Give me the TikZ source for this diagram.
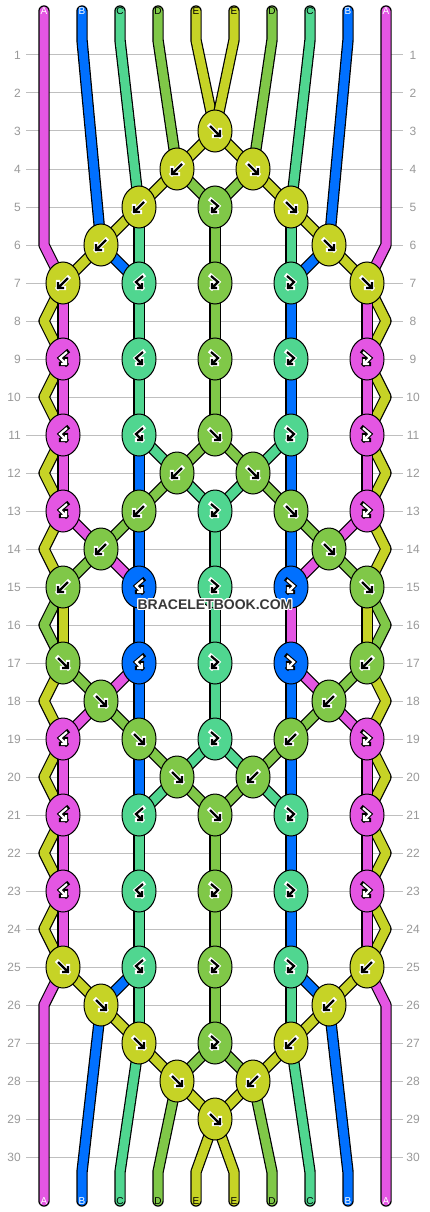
\documentclass[tikz,border=0pt]{standalone}
\usepackage{fontspec}
\setmainfont{Liberation Sans}
\usepackage{contour}
\contourlength{1pt}
\usetikzlibrary{shapes.geometric}
\pgfdeclarelayer{background}
\pgfsetlayers{background,main}

\definecolor{yarnA}{HTML}{E456E3}
\definecolor{yarnB}{HTML}{0070FF}
\definecolor{yarnC}{HTML}{50D690}
\definecolor{yarnD}{HTML}{80C848}
\definecolor{yarnE}{HTML}{C6D326}
% arrow ink and its outline on each yarn
\colorlet{inkyarnA}{white}\colorlet{haloyarnA}{black}
\colorlet{inkyarnB}{white}\colorlet{haloyarnB}{black}
\colorlet{inkyarnC}{black}\colorlet{haloyarnC}{white}
\colorlet{inkyarnD}{black}\colorlet{haloyarnD}{white}
\colorlet{inkyarnE}{black}\colorlet{haloyarnE}{white}

% knot arrows: forward, backward, forward-backward, backward-forward
\newcommand{\arF}{(-5,-5) -- (5,5) (5,-1) -- (5,5) -- (-1,5)}
\newcommand{\arB}{(5,-5) -- (-5,5) (-5,-1) -- (-5,5) -- (1,5)}
\newcommand{\arFB}{(-4,-7) -- (3,-1) -- (-3,5) (-3,0) -- (-3,5) -- (2,5)}
\newcommand{\arBF}{(4,-7) -- (-3,-1) -- (3,5) (3,0) -- (3,5) -- (-2,5)}

\tikzset{
  strand/.style={draw=black,line width=1.2pt,double=#1,double distance=9pt,line cap=round,line join=round},
  knot/.style={ellipse,draw=black,line width=1pt,fill=#1,minimum width=34pt,minimum height=42pt,inner sep=0pt},
  halo/.style={draw=halo#1,line width=4.4pt,line cap=rect},
  ink/.style={draw=ink#1,line width=2.2pt},
  rownum/.style={text=black!40,font=\fontsize{12}{12}\selectfont,inner sep=0pt},
  endlabel/.style={text=#1,font=\fontsize{10}{10}\selectfont,inner sep=0pt},
  gridline/.style={draw=black!25,line width=1pt},
  watermark/.style={text=black!78,font=\fontsize{14}{14}\selectfont\bfseries,inner sep=0pt}
}

\begin{document}
\begin{tikzpicture}[x=1pt,y=-1pt]
\useasboundingbox (0,0) rectangle (430,1212);

% knot places, edge turns, bends of the loose ends
\foreach \r in {1,...,30} {
  \foreach \c in {0,...,4}
    \coordinate (k\r-\c) at ({63+76*\c+38*(1-mod(\r,2))},{17+38*\r});
  \coordinate (eL\r) at (44,{17+38*\r});
  \coordinate (eR\r) at (386,{17+38*\r});
}
\foreach \i in {1,...,10} {
  \coordinate (tb\i) at ({6+38*\i},40);
  \coordinate (bb\i) at ({6+38*\i},1172);
}

\begin{pgfonlayer}{background}
\fill[white] (0,0) rectangle (430,1212);
\foreach \r in {1,...,30} {
  \node[rownum,anchor=east] (numL\r) at (21,{17+38*\r}) {\r};
  \node[rownum] (numR\r) at (413,{17+38*\r}) {\r};
  \draw[gridline] ([xshift=5pt]numL\r.east) -- (403,{17+38*\r});
}
\end{pgfonlayer}

% knots
\foreach \p/\c/\a in {3-2/yarnE/\arF,
  4-1/yarnE/\arB, 4-2/yarnE/\arF,
  5-1/yarnE/\arB, 5-2/yarnD/\arFB, 5-3/yarnE/\arF,
  6-0/yarnE/\arB, 6-3/yarnE/\arF,
  7-0/yarnE/\arB, 7-1/yarnC/\arBF, 7-2/yarnD/\arFB, 7-3/yarnC/\arFB, 7-4/yarnE/\arF,
  9-0/yarnA/\arBF, 9-1/yarnC/\arBF, 9-2/yarnD/\arFB, 9-3/yarnC/\arFB, 9-4/yarnA/\arFB,
  11-0/yarnA/\arBF, 11-1/yarnC/\arBF, 11-2/yarnD/\arF, 11-3/yarnC/\arFB, 11-4/yarnA/\arFB,
  12-1/yarnD/\arB, 12-2/yarnD/\arF,
  13-0/yarnA/\arBF, 13-1/yarnD/\arB, 13-2/yarnC/\arFB, 13-3/yarnD/\arF, 13-4/yarnA/\arFB,
  14-0/yarnD/\arB, 14-3/yarnD/\arF,
  15-0/yarnD/\arB, 15-1/yarnB/\arBF, 15-2/yarnC/\arFB, 15-3/yarnB/\arFB, 15-4/yarnD/\arF,
  17-0/yarnD/\arF, 17-1/yarnB/\arBF, 17-2/yarnC/\arFB, 17-3/yarnB/\arFB, 17-4/yarnD/\arB,
  18-0/yarnD/\arF, 18-3/yarnD/\arB,
  19-0/yarnA/\arBF, 19-1/yarnD/\arF, 19-2/yarnC/\arFB, 19-3/yarnD/\arB, 19-4/yarnA/\arFB,
  20-1/yarnD/\arF, 20-2/yarnD/\arB,
  21-0/yarnA/\arBF, 21-1/yarnC/\arBF, 21-2/yarnD/\arF, 21-3/yarnC/\arFB, 21-4/yarnA/\arFB,
  23-0/yarnA/\arBF, 23-1/yarnC/\arBF, 23-2/yarnD/\arFB, 23-3/yarnC/\arFB, 23-4/yarnA/\arFB,
  25-0/yarnE/\arF, 25-1/yarnC/\arBF, 25-2/yarnD/\arFB, 25-3/yarnC/\arFB, 25-4/yarnE/\arB,
  26-0/yarnE/\arF, 26-3/yarnE/\arB,
  27-1/yarnE/\arF, 27-2/yarnD/\arFB, 27-3/yarnE/\arB,
  28-1/yarnE/\arF, 28-2/yarnE/\arB,
  29-2/yarnE/\arF}
{
  \node[knot=\c] (n\p) at (k\p) {};
  \draw[halo=\c,shift={(k\p)}] \a;
  \draw[ink=\c,shift={(k\p)}] \a;
}

% letters on the loose ends
\foreach \i/\l/\t in {1/A/white,2/B/white,3/C/black,4/D/black,5/E/black,6/E/black,7/D/black,8/C/black,9/B/white,10/A/white}
{
  \node[endlabel=\t] (top\i) at ({6+38*\i},11) {\l};
  \node[endlabel=\t] (bot\i) at ({6+38*\i},1201) {\l};
}

\begin{pgfonlayer}{background}
% loose ends
\draw[strand=yarnA] (top1.center) -- (eL6) -- (n7-0.center);
\draw[strand=yarnA] (top10.center) -- (eR6) -- (n7-4.center);
\foreach \i/\c/\t in {2/yarnB/6-0,3/yarnC/5-1,4/yarnD/4-1,5/yarnE/3-2,6/yarnE/3-2,7/yarnD/4-2,8/yarnC/5-3,9/yarnB/6-3}
  \draw[strand=\c] (top\i.center) -- (tb\i) -- (n\t.center);
\draw[strand=yarnA] (n25-0.center) -- (eL26) -- (bot1.center);
\draw[strand=yarnA] (n25-4.center) -- (eR26) -- (bot10.center);
\foreach \i/\c/\t in {2/yarnB/26-0,3/yarnC/27-1,4/yarnD/28-1,5/yarnE/29-2,6/yarnE/29-2,7/yarnD/28-2,8/yarnC/27-3,9/yarnB/26-3}
  \draw[strand=\c] (n\t.center) -- (bb\i) -- (bot\i.center);

% turns at the edges
\foreach \a/\e/\b/\c in {7-0/eL8/9-0/yarnE, 9-0/eL10/11-0/yarnE, 11-0/eL12/13-0/yarnE, 13-0/eL14/15-0/yarnE,
  15-0/eL16/17-0/yarnD, 17-0/eL18/19-0/yarnE, 19-0/eL20/21-0/yarnE, 21-0/eL22/23-0/yarnE, 23-0/eL24/25-0/yarnE,
  7-4/eR8/9-4/yarnE, 9-4/eR10/11-4/yarnE, 11-4/eR12/13-4/yarnE, 13-4/eR14/15-4/yarnE,
  15-4/eR16/17-4/yarnD, 17-4/eR18/19-4/yarnE, 19-4/eR20/21-4/yarnE, 21-4/eR22/23-4/yarnE, 23-4/eR24/25-4/yarnE}
  \draw[strand=\c] (n\a.center) -- (\e) -- (n\b.center);

% strands between knots
\foreach \a/\b in {3-2/4-1, 3-2/4-2, 4-1/5-1, 4-2/5-3, 5-1/6-0, 5-3/6-3, 6-0/7-0, 6-3/7-4, 15-0/17-0, 15-4/17-4,
  25-0/26-0, 25-4/26-3, 26-0/27-1, 26-3/27-3, 27-1/28-1, 27-3/28-2, 28-1/29-2, 28-2/29-2}
  \draw[strand=yarnE] (n\a.center) -- (n\b.center);
\foreach \a/\b in {4-1/5-2, 4-2/5-2, 5-2/7-2, 7-2/9-2, 9-2/11-2, 11-2/12-1, 11-2/12-2, 12-1/13-1, 12-2/13-3,
  13-1/14-0, 13-3/14-3, 14-0/15-0, 14-3/15-4, 17-0/18-0, 17-4/18-3, 18-0/19-1, 18-3/19-3, 19-1/20-1, 19-3/20-2,
  20-1/21-2, 20-2/21-2, 21-2/23-2, 23-2/25-2, 25-2/27-2, 27-2/28-1, 27-2/28-2}
  \draw[strand=yarnD] (n\a.center) -- (n\b.center);
\foreach \a/\b in {5-1/7-1, 5-3/7-3, 7-1/9-1, 9-1/11-1, 11-1/12-1, 11-3/12-2, 12-1/13-2, 12-2/13-2, 13-2/15-2,
  15-2/17-2, 17-2/19-2, 19-2/20-1, 19-2/20-2, 20-1/21-1, 20-2/21-3, 21-1/23-1, 23-1/25-1, 25-1/27-1, 25-3/27-3}
  \draw[strand=yarnC] (n\a.center) -- (n\b.center);
\foreach \a/\b in {6-0/7-1, 6-3/7-3, 7-3/9-3, 9-3/11-3, 11-1/13-1, 11-3/13-3, 13-1/15-1, 13-3/15-3, 15-1/17-1,
  17-1/19-1, 17-3/19-3, 19-1/21-1, 19-3/21-3, 21-3/23-3, 23-3/25-3, 25-1/26-0, 25-3/26-3}
  \draw[strand=yarnB] (n\a.center) -- (n\b.center);
\foreach \a/\b in {7-0/9-0, 7-4/9-4, 9-0/11-0, 9-4/11-4, 11-0/13-0, 11-4/13-4, 13-0/14-0, 13-4/14-3, 14-0/15-1,
  14-3/15-3, 15-3/17-3, 17-1/18-0, 17-3/18-3, 18-0/19-0, 18-3/19-4, 19-0/21-0, 19-4/21-4, 21-0/23-0, 21-4/23-4,
  23-0/25-0, 23-4/25-4}
  \draw[strand=yarnA] (n\a.center) -- (n\b.center);
\end{pgfonlayer}

\node[watermark] (logo) at (215,605) {\contour{white}{BRACELETBOOK.COM}};
\end{tikzpicture}
\end{document}
